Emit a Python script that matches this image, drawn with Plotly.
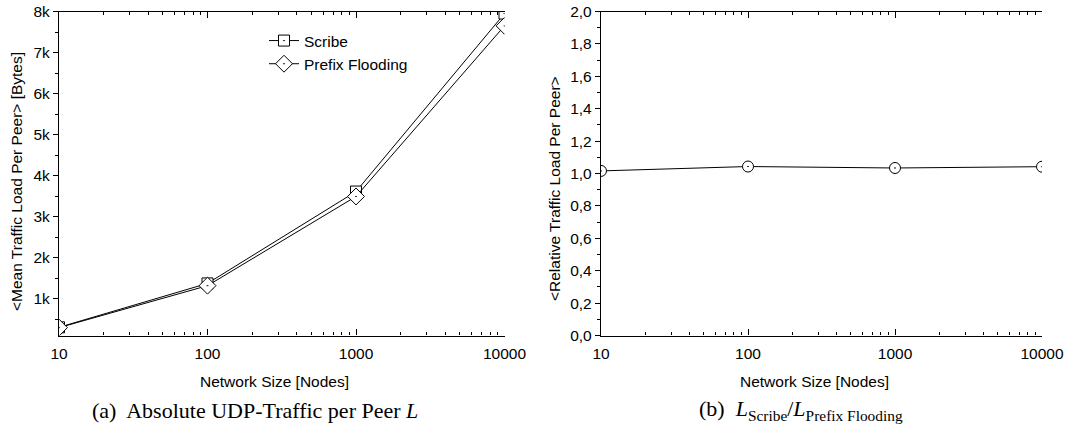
import plotly.graph_objects as go

# ---- data ----
network_sizes = [10, 100, 1000, 10000]
scribe_load = [300, 1370, 3610, 7950]
prefix_flooding_load = [292, 1315, 3490, 7650]
relative_load = [1.016, 1.043, 1.034, 1.042]

series_names = ["Scribe", "Prefix Flooding"]
x_title = "Network Size [Nodes]"
y_title_left = "&lt;Mean Traffic Load Per Peer&gt; [Bytes]"
y_title_right = "&lt;Relative Traffic Load Per Peer&gt;"
caption_left = "(a)  Absolute UDP-Traffic per Peer <i>L</i>"
caption_right = "(b)  <i>L</i><sub>Scribe</sub>/<i>L</i><sub>Prefix Flooding</sub>"

W, H = 1071, 441
FONT = "Liberation Sans"
FS = 15.5

def px_x(p):
    return p / W

def px_y(p):
    return 1 - p / H

fig = go.Figure()

fig.add_trace(go.Scatter(
    x=network_sizes, y=scribe_load, name=series_names[0], mode="lines+markers",
    line=dict(color="black", width=1),
    marker=dict(symbol="square-dot", size=11, color="white", line=dict(color="black", width=1)),
    xaxis="x", yaxis="y"))
fig.add_trace(go.Scatter(
    x=network_sizes, y=prefix_flooding_load, name=series_names[1], mode="lines+markers",
    line=dict(color="black", width=1),
    marker=dict(symbol="diamond-dot", size=13, color="white", line=dict(color="black", width=1)),
    xaxis="x", yaxis="y"))
fig.add_trace(go.Scatter(
    x=network_sizes, y=relative_load, name="ratio", mode="lines+markers", showlegend=False,
    line=dict(color="black", width=1),
    marker=dict(symbol="circle-dot", size=11, color="white", line=dict(color="black", width=1)),
    xaxis="x2", yaxis="y2"))

dom_left = [px_x(59), px_x(504.5)]
dom_right = [px_x(601), px_x(1042)]
dom_y = [px_y(335.5), px_y(11.5)]

axis_common = dict(showline=True, linecolor="black", linewidth=1.3, showgrid=False,
                   zeroline=False, tickcolor="black", tickwidth=1, automargin=False,
                   ticklabeloverflow="allow",
                   tickfont=dict(family=FONT, size=FS, color="black"))

xaxis_common = dict(axis_common, type="log", range=[1, 4], tickvals=network_sizes,
                    tickformat="d", ticks="inside", ticklen=6, mirror="ticks",
                    ticklabelstandoff=4,
                    minor=dict(ticks="inside", ticklen=3, dtick="D1", tickcolor="black"))

fig.update_layout(
    width=W, height=H, margin=dict(l=0, r=0, t=0, b=0, pad=0, autoexpand=False),
    paper_bgcolor="white", plot_bgcolor="white",
    separators=",.",
    font=dict(family=FONT, size=FS, color="black"),
    xaxis=dict(xaxis_common, domain=dom_left, anchor="y"),
    xaxis2=dict(xaxis_common, domain=dom_right, anchor="y2"),
    yaxis=dict(axis_common, domain=dom_y, anchor="x", range=[100, 8000],
               tick0=0, dtick=1000, tickformat="~s", ticks="outside", ticklen=5,
               minor=dict(ticks="outside", ticklen=3, dtick=500, tick0=0, tickcolor="black")),
    yaxis3=dict(axis_common, overlaying="y", side="right", anchor="x", range=[100, 8000],
                tick0=0, dtick=1000, ticks="inside", ticklen=5, showticklabels=False,
                minor=dict(ticks="inside", ticklen=3, dtick=500, tick0=0, tickcolor="black")),
    yaxis2=dict(axis_common, domain=dom_y, anchor="x2", range=[0, 2],
                tick0=0, dtick=0.2, tickformat=".1f", ticks="outside", ticklen=5,
                minor=dict(ticks="outside", ticklen=3, dtick=0.1, tick0=0, tickcolor="black")),
    yaxis4=dict(axis_common, overlaying="y2", side="right", anchor="x2", range=[0, 2],
                tick0=0, dtick=0.2, ticks="inside", ticklen=5, showticklabels=False,
                minor=dict(ticks="inside", ticklen=3, dtick=0.1, tick0=0, tickcolor="black")),
    legend=dict(x=px_x(264), y=px_y(24), xanchor="left", yanchor="top",
                bgcolor="rgba(0,0,0,0)", font=dict(family=FONT, size=FS, color="black"),
                itemwidth=30, tracegroupgap=0),
    showlegend=True,
)

def label(text, x, y, font, size, angle=0):
    return dict(text=text, x=px_x(x), y=px_y(y), xref="paper", yref="paper",
                xanchor="center", yanchor="middle", showarrow=False, textangle=angle,
                font=dict(family=font, size=size, color="black"))

ann = [
    label(x_title, 274, 381, FONT, FS),
    label(x_title, 814, 381, FONT, FS),
    label(y_title_left, 16, 182, FONT, FS, -90),
    label(y_title_right, 554, 189, FONT, FS, -90),
    label(caption_left, 255, 410, "Liberation Serif", 22),
    label(caption_right, 801, 410, "Liberation Serif", 22),
]
fig.update_layout(annotations=ann)

fig.write_html("out.html", config={"displayModeBar": False},
               post_script="document.body.style.margin='0';document.body.style.overflow='hidden';")
